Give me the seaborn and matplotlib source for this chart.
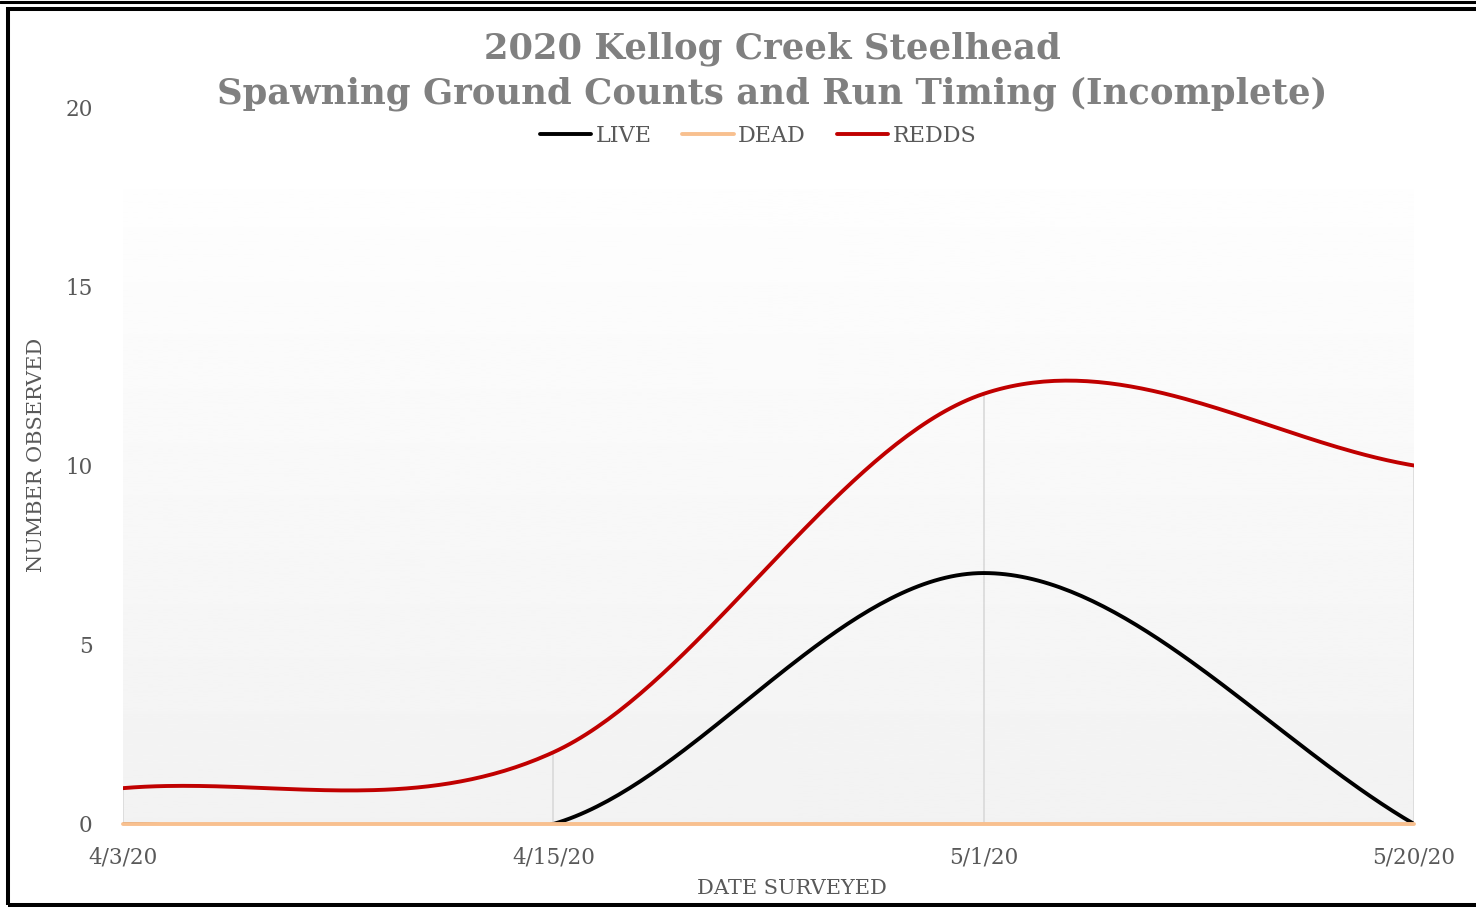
import numpy as np
import pandas as pd
import matplotlib
matplotlib.use('Agg')
import matplotlib.pyplot as plt
from matplotlib.lines import Line2D
from matplotlib.patches import Rectangle
import seaborn as sns

# donnees
dates = ['4/3/20', '4/15/20', '5/1/20', '5/20/20']
live = [0, 0, 7, 0]
dead = [0, 0, 0, 0]
redds = [1, 2, 12, 10]
series_names = ['LIVE', 'DEAD', 'REDDS']
colors = {'LIVE': '#000000', 'DEAD': '#f8c08f', 'REDDS': '#c00000'}

sns.set_style('white')
plt.rcParams['font.family'] = ['DejaVu Serif']

W, H = 1476, 907


def smooth(ys, n=80):
    # courbe lissee facon Excel (bezier type Catmull-Rom)
    xs = np.arange(len(ys), dtype=float)
    p = np.column_stack([xs, np.asarray(ys, dtype=float)])
    p = np.vstack([2 * p[0] - p[1], p, 2 * p[-1] - p[-2]])
    t = np.linspace(0, 1, n)[:, None]
    out = []
    for i in range(1, len(p) - 2):
        p0, p1, p2, p3 = p[i - 1], p[i], p[i + 1], p[i + 2]
        c1 = p1 + (p2 - p0) / 6
        c2 = p2 - (p3 - p1) / 6
        seg = (1 - t) ** 3 * p1 + 3 * (1 - t) ** 2 * t * c1 + 3 * (1 - t) * t ** 2 * c2 + t ** 3 * p2
        out.append(seg if i == 1 else seg[1:])
    return np.vstack(out)


frames = []
for name, vals in zip(series_names, [live, dead, redds]):
    pts = smooth(vals)
    frames.append(pd.DataFrame({'x': pts[:, 0], 'y': pts[:, 1], 'serie': name}))
df = pd.concat(frames, ignore_index=True)

fig = plt.figure(figsize=(W / 100, H / 100), dpi=100)
ax = fig.add_axes([123 / W, 1 - 824 / H, (1414 - 123) / W, (824 - 107) / H])

# fond en degrade
grad = np.linspace(0.949, 0.995, 256)[:, None]
ax.imshow(grad, extent=(0, 3, 0, 17.7), origin='lower', aspect='auto',
          cmap='gray', vmin=0, vmax=1, zorder=0)

# lignes de rappel verticales
ax.vlines(range(len(dates)), 0, np.maximum(live, redds), colors='#d9d9d9', lw=1.2, zorder=1)

sns.lineplot(data=df, x='x', y='y', hue='serie', hue_order=series_names,
             palette=colors, sort=False, estimator=None, lw=2.8, ax=ax, legend=False)
for ln, z in zip(ax.lines, [3, 4, 5]):
    ln.set_zorder(z)
ax.lines[1].set_clip_on(False)

ax.set_xlim(0, 3)
ax.set_ylim(0, 20)
ax.set_xticks(range(len(dates)))
ax.set_xticklabels(dates)
ax.set_yticks([0, 5, 10, 15, 20])
ax.tick_params(length=0, labelsize=15.5, labelcolor='#595959')
ax.tick_params(axis='x', pad=16)
ax.tick_params(axis='y', pad=22)
ax.set_xlabel('')
ax.set_ylabel('')
for s in ax.spines.values():
    s.set_visible(False)

# titres
fig.text(772 / W, 1 - 49 / H, '2020 Kellog Creek Steelhead', ha='center', va='center',
         fontsize=25.5, fontweight='bold', color='#808080')
fig.text(772 / W, 1 - 94 / H, 'Spawning Ground Counts and Run Timing (Incomplete)',
         ha='center', va='center', fontsize=25.5, fontweight='bold', color='#808080')
fig.text(792 / W, 1 - 889 / H, 'DATE SURVEYED', ha='center', va='center',
         fontsize=15, color='#595959')
fig.text(37 / W, 1 - 455 / H, 'NUMBER OBSERVED', ha='center', va='center',
         rotation=90, fontsize=15, color='#595959')

# legende
handles = [Line2D([], [], color=colors[n], lw=2.8, solid_capstyle='round') for n in series_names]
leg = fig.legend(handles, series_names, loc='center', bbox_to_anchor=(758 / W, 1 - 136 / H),
                 ncol=3, frameon=False, fontsize=16, handlelength=2.3, handletextpad=0.2,
                 columnspacing=1.4)
for t in leg.get_texts():
    t.set_color('#595959')

# cadre
fig.add_artist(Rectangle((8 / W, (H - 904.5) / H), 1.2, (904.5 - 8.5) / H,
                         transform=fig.transFigure, fill=False, ec='black', lw=2.9))
fig.add_artist(Line2D([0, 1], [1 - 1.5 / H, 1 - 1.5 / H], transform=fig.transFigure,
                      color='black', lw=2.2))

fig.savefig('out.png', dpi=100)
